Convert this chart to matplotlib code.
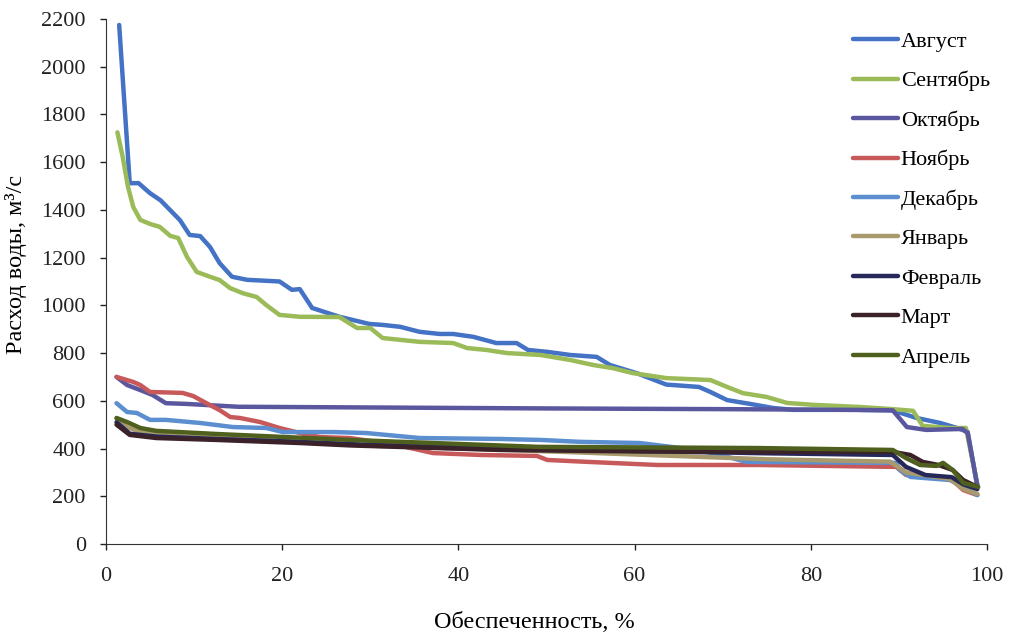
# Кривые обеспеченности расходов воды по месяцам
import matplotlib.pyplot as plt

# Август
x_avg = [1.5, 2.7, 3.7, 5.0, 6.2, 8.4, 9.5, 10.7, 11.8, 12.9, 14.3, 16, 19.7, 21.1, 22, 23.4, 26.5,
         29.9, 31.4, 33.4, 35.6, 37.9, 39.4, 41.7, 44.3, 46.6, 47.9, 50.1, 52.7, 55.7, 57.2, 60.3,
         63.6, 67.3, 68.6, 70.5, 73.1, 75.7, 78, 85, 89.3, 92, 94.7, 96.6, 97.8, 98.9]
y_avg = [2175, 1512, 1512, 1470, 1440, 1357, 1295, 1290, 1245, 1177, 1120, 1107, 1100, 1065, 1068, 989, 952,
         922, 918, 910, 889, 880, 880, 868, 842, 842, 813, 805, 792, 784, 750, 715,
         668, 658, 637, 603, 587, 570, 562, 562, 560, 528, 507, 486, 470, 240]

# Сентябрь
x_sen = [1.3, 1.9, 2.5, 3.1, 3.9, 5.0, 6.1, 7.3, 8.2, 9.2, 10.3, 11.8, 12.9, 14.1, 15.6, 17.1, 18.2,
         19.7, 22, 26.5, 28.5, 30, 31.4, 35.6, 39.4, 41, 43.2, 45.5, 49.3, 52.7, 55.3, 57.5, 59.8,
         63.6, 68.6, 70.5, 72.3, 75, 77.3, 80.3, 85.6, 89.3, 91.6, 92.7, 95.8, 97.6, 98.9]
y_sen = [1725, 1622, 1497, 1412, 1358, 1341, 1329, 1291, 1282, 1203, 1140, 1120, 1106, 1072, 1050, 1035, 1001,
         960, 952, 951, 905, 905, 863, 847, 842, 821, 813, 800, 792, 771, 750, 737, 716,
         695, 687, 658, 632, 616, 591, 583, 574, 565, 558, 495, 486, 486, 250]

# Октябрь
x_okt = [1.2, 2.4, 3.9, 5.3, 6.8, 9.1, 15, 30, 50, 70, 85, 89.3, 90.9, 93.1, 97.2, 97.8, 98.9]
y_okt = [700, 666, 645, 624, 590, 587, 575, 572, 568, 565, 562, 560, 490, 478, 482, 465, 245]

# Ноябрь
x_noy = [1.2, 3.1, 3.9, 5, 8.7, 9.9, 11.4, 12.9, 14.1, 15.2, 17.5, 19.7, 22, 24.3, 27.7, 33, 37.1,
         42.5, 48.9, 50.1, 54.7, 62.6, 74.1, 89.7, 90.8, 95.8, 97.3, 98.9]
y_noy = [700, 679, 666, 637, 633, 620, 590, 561, 532, 528, 511, 486, 465, 448, 444, 415, 381,
         373, 369, 352, 344, 331, 331, 323, 289, 277, 226, 205]

# Декабрь
x_dek = [1.2, 2.4, 3.5, 5, 6.8, 10.7, 14.4, 18.2, 20.1, 25.8, 29.5, 35.6, 44.7, 49.3, 53.8, 60.6,
         65.2, 68.9, 72.7, 89.7, 90.1, 91.3, 95.8, 97.3, 98.9]
y_dek = [590, 553, 549, 520, 520, 507, 490, 486, 469, 469, 465, 444, 440, 436, 428, 423,
         402, 381, 344, 340, 310, 281, 268, 239, 205]

# Январь
x_yan = [1.2, 2.4, 3.5, 5, 8, 15, 20, 30, 45, 60, 75, 89, 90.8, 95.8, 97.3, 98.9]
y_yan = [525, 490, 475, 462, 452, 440, 432, 412, 395, 375, 355, 345, 300, 272, 230, 210]

# Февраль
x_fev = [1.2, 2.7, 5.7, 12.5, 22, 30, 45, 60, 75, 89.3, 90.8, 93, 96, 97.3, 98.9]
y_fev = [510, 462, 450, 440, 428, 415, 400, 390, 380, 373, 323, 289, 280, 250, 230]

# Март
x_mar = [1.2, 2.7, 5.7, 12.5, 22, 27.7, 44.7, 60, 74, 89.3, 91.3, 92.7, 94.5, 96.1, 97.3, 98.9]
y_mar = [500, 457, 444, 436, 423, 413, 394, 388, 386, 386, 373, 344, 331, 310, 268, 239]

# Апрель
x_apr = [1.2, 2.4, 3.9, 5.7, 12.5, 27.7, 49, 74, 89.3, 90.8, 92.4, 94.3, 95, 96.1, 97.3, 99]
y_apr = [528, 511, 486, 474, 461, 436, 407, 402, 394, 360, 331, 327, 340, 310, 256, 239]

nomes = ['Август', 'Сентябрь', 'Октябрь', 'Ноябрь', 'Декабрь', 'Январь', 'Февраль', 'Март', 'Апрель']
cores = ['#4472C4', '#9BBB59', '#5B579E', '#C8595A', '#5B8FD0', '#A89A6C', '#27285A', '#3A2228', '#4F5F1E']
series = [(x_avg, y_avg), (x_sen, y_sen), (x_okt, y_okt), (x_noy, y_noy), (x_dek, y_dek),
          (x_yan, y_yan), (x_fev, y_fev), (x_mar, y_mar), (x_apr, y_apr)]

plt.rcParams['font.family'] = ['Liberation Serif', 'DejaVu Serif']
plt.rcParams['font.size'] = 16

fig = plt.figure(figsize=(10.11, 6.43), dpi=100)
ax = fig.add_axes([0.1048, 0.154, 0.8715, 0.8165])

for (xs, ys), nome, cor in zip(series, nomes, cores):
    ax.plot(xs, ys, color=cor, linewidth=3.2, label=nome, solid_capstyle='round')

ax.set_xlim(0, 100)
ax.set_ylim(0, 2200)
ax.set_xticks(range(0, 101, 20))
ax.set_yticks(range(0, 2201, 200))
ax.spines['top'].set_visible(False)
ax.spines['right'].set_visible(False)
ax.spines['left'].set_color('#333333')
ax.spines['bottom'].set_color('#333333')
ax.tick_params(direction='out', length=4.5, width=1, colors='#222222')
ax.tick_params(axis='x', pad=12)
ax.tick_params(axis='y', pad=10)

ax.set_xlabel('Обеспеченность, %', fontsize=17.5)
ax.set_ylabel('Расход воды, м³/с', fontsize=17.5)
ax.xaxis.set_label_coords(0.486, -0.13)
ax.yaxis.set_label_coords(-0.09, 0.533)

ax.legend(loc='upper left', bbox_to_anchor=(0.835, 0.965), bbox_transform=fig.transFigure,
          frameon=False, handlelength=2.0, handletextpad=0.15, labelspacing=0.85, borderaxespad=0)

fig.savefig('out.png', dpi=100)
